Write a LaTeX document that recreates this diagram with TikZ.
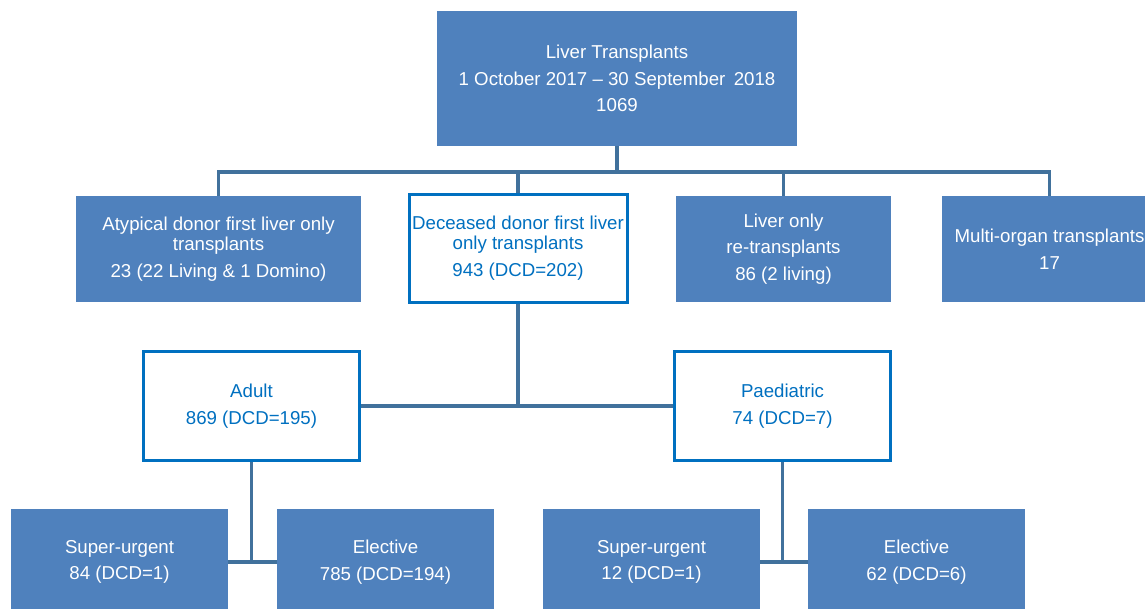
\documentclass[tikz,border=0pt]{standalone}
\usepackage{fontspec}
\setmainfont{Liberation Sans}
\usetikzlibrary{positioning}

\definecolor{boxblue}{HTML}{4F81BD}
\definecolor{edgeblue}{HTML}{0070C0}
\definecolor{linkblue}{HTML}{41719C}

\begin{document}
\begin{tikzpicture}[
  x=0.75pt, y=-0.75pt,
  font=\fontsize{14}{15}\selectfont,
  fillbox/.style={fill=boxblue, text=white, align=center, inner sep=0pt,
                  minimum height=79.5pt},
  linebox/.style={draw=edgeblue, fill=white, line width=2.25pt, text=edgeblue,
                  align=center, inner sep=0pt},
  link/.style={draw=linkblue, line width=2.4pt}
]
\useasboundingbox[fill=white] (0,0) rectangle (1145,609);

\node[fillbox, minimum width=270pt, minimum height=101.25pt] (total) at (617,78.5)
  {Liver Transplants\\[5pt]1 October 2017 -- 30 September\hspace{0.45em}2018\\[5pt]1069};

\node[fillbox, minimum width=213.75pt] (atyp) at (218.5,249)
  {Atypical donor first liver only\\transplants\\[5pt]23 (22 Living \& 1 Domino)};
\node[linebox, minimum width=163.5pt, minimum height=81pt] (dcsd) at (518,248.5)
  {Deceased donor first liver\\only transplants\\[5pt]943 (DCD=202)};
\node[fillbox, minimum width=161.25pt] (retx) at (783.5,249)
  {Liver only\\[5pt]re-transplants\\[5pt]86 (2 living)};
\node[fillbox, minimum width=161.25pt] (multi) at (1049.5,249)
  {Multi-organ transplants\\[5pt]17};

\node[linebox, minimum width=162pt, minimum height=81.75pt] (adult) at (251.5,406)
  {Adult\\[5pt]869 (DCD=195)};
\node[linebox, minimum width=162pt, minimum height=81.75pt] (paed) at (782.5,406)
  {Paediatric\\[5pt]74 (DCD=7)};

\node[fillbox, minimum width=162.75pt] (adsu) at (119.5,562) {Super-urgent\\[5pt]84 (DCD=1)};
\node[fillbox, minimum width=162.75pt] (adel) at (385.5,562) {Elective\\[5pt]785 (DCD=194)};
\node[fillbox, minimum width=162.75pt] (pasu) at (651.5,562) {Super-urgent\\[5pt]12 (DCD=1)};
\node[fillbox, minimum width=162.75pt] (pael) at (916.5,562) {Elective\\[5pt]62 (DCD=6)};

% connectors
\coordinate (bus) at (617,172);
\draw[link] (total) -- (bus);
\foreach \n in {atyp,dcsd,retx,multi}
  \draw[link] (\n) |- (bus);
\draw[link] (dcsd) -- (dcsd |- adult);
\draw[link] (adult) -- (paed);
\draw[link] (adult) -- (adult |- adsu);
\draw[link] (adsu) -- (adel);
\draw[link] (paed) -- (paed |- pasu);
\draw[link] (pasu) -- (pael);
\end{tikzpicture}
\end{document}
